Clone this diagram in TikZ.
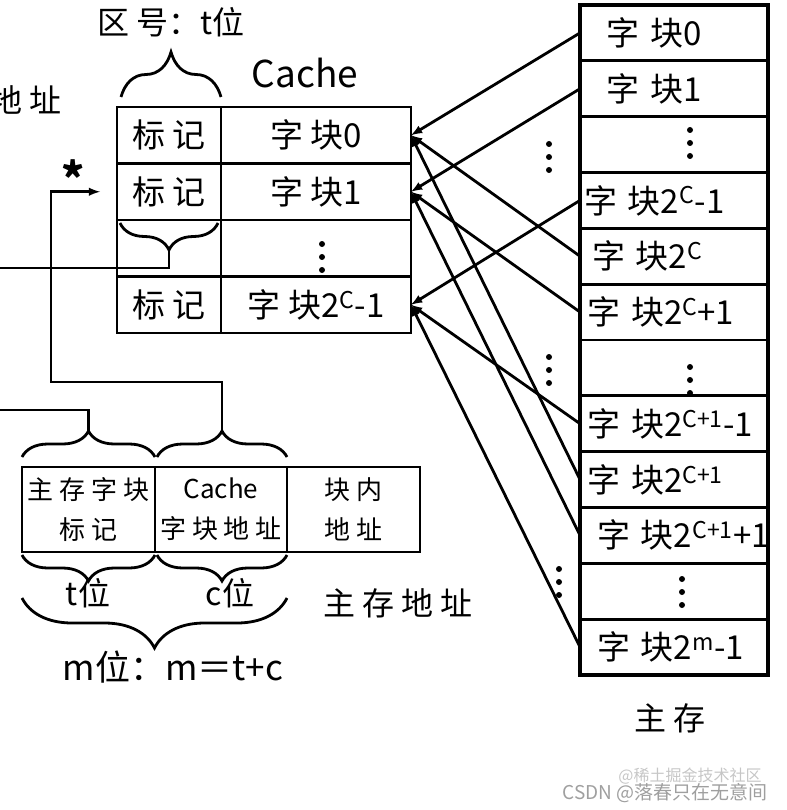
\documentclass[tikz,border=0pt]{standalone}
\usepackage{fontspec}
\setmainfont{Noto Sans CJK SC}
\usetikzlibrary{positioning,decorations.pathreplacing}

\begin{document}
\begin{tikzpicture}[x=1pt, y=-1pt, line width=2.8pt,
        cell/.style={draw, outer sep=0pt, inner sep=0pt, minimum height=56.5pt, font=\fontsize{33}{38}\selectfont},
        memcell/.style={draw, outer sep=0pt, inner sep=0pt, minimum height=55.83pt, text width=188pt, align=left, font=\fontsize{33}{38}\selectfont},
        field/.style={draw, outer sep=0pt, inner sep=0pt, minimum height=85pt, minimum width=133pt, align=center, font=\fontsize{26}{40}\selectfont},
        brc/.style={decorate, decoration={brace, amplitude=#1}},
        lbl/.style={inner sep=0pt, font=\fontsize{32}{38}\selectfont}]
    \useasboundingbox (0,0) rectangle (786,810);

    % cache: tag column and block column
    \foreach \tg/\dt [count=\i from 0] in {标 记/字 块0, 标 记/字 块1, {}/{}, 标 记/字 块2\textsuperscript{C}-1}{
        \node[cell, minimum width=104pt] (t\i) at (169,{135.25+56.5*\i}) {\tg};
        \node[cell, minimum width=190pt, right=0pt of t\i] (d\i) {\dt};
    }

    % main memory column, \dx = indent of the label
    \foreach \lb/\dx [count=\i from 0] in {字 块0/26, 字 块1/26, {}/0, 字 块2\textsuperscript{C}-1/4,
            字 块2\textsuperscript{C}/12, 字 块2\textsuperscript{C}+1/7, {}/0, 字 块2\textsuperscript{C+1}-1/7,
            字 块2\textsuperscript{C+1}/7, 字 块2\textsuperscript{C+1}+1/17, {}/0, 字 块2\textsuperscript{m}-1/17}
        \node[memcell] (m\i) at (674,{32.9+55.83*\i}) {\hspace*{\dx pt}\mbox{\lb}};
    \draw[line width=4.5pt] (m0.north west) rectangle (m11.south east);

    % vertical dots
    \foreach \x/\y in {322/257, 690/143, 549/157, 690/380, 549/370, 682/592, 559/582}
        \foreach \d in {-13,0,13}
            \fill (\x,\y+\d) circle (3pt);

    % mapping: main memory block -> cache block
    \foreach \s/\t in {0/0, 1/1, 3/3, 4/0, 5/1, 7/3, 8/0, 9/1, 11/3}
        \draw[-latex] (m\s.west) -- (d\t.east);

    % main memory address
    \node[field] (f1) at (88.5,509.5) {主 存 字 块\\标 记};
    \node[field, right=0pt of f1, minimum width=132pt] (f2) {Cache\\字 块 地 址};
    \node[field, right=0pt of f2] (f3) {块 内\\地 址};

    % braces
    \draw[brc=45pt] (121,97) -- (221,97);       % above tag column
    \draw[brc=27pt] (218,223) -- (120,223);     % tag compare
    \draw[brc=26pt] (22,457) -- (155,457);      % above t field
    \draw[brc=26pt] (157,457) -- (287,457);     % above c field
    \draw[brc=26pt] (155,555) -- (22,555);      % below t field
    \draw[brc=26pt] (287,555) -- (157,555);     % below c field
    \draw[brc=50pt] (287,598) -- (22,598);      % m bits

    \coordinate (gtip) at (169,250);
    \coordinate (ttip) at (88.5,431);
    \coordinate (ctip) at (222,431);
    \draw (gtip) -- ++(0,18) -- ++(-180,0);
    \draw (ttip) -- ++(0,-21) -- ++(-100,0);
    \draw[-latex, shorten >=17pt] (ctip) -- ++(0,-49) -- ++(-171,0) |- (t1.west);

    % labels
    \node[lbl] (zone) at (171,22) {区 号：t位};
    \node[lbl, font=\fontsize{37}{40}\selectfont] (ctitle) at (305,73) {Cache};
    \node[lbl, anchor=east] (addr) at (63,100) {地 址};
    \node[lbl, font=\bfseries\fontsize{44}{44}\selectfont] (star) at (73,178) {*};
    \node[lbl] (tbits) at (88,593) {t位};
    \node[lbl] (cbits) at (230,593) {c位};
    \node[lbl, font=\fontsize{35}{40}\selectfont] (mbits) at (173,667) {m位：m＝t+c};
    \node[lbl] (maddr) at (398,603) {主 存 地 址};
    \node[lbl] (mem) at (670,718) {主 存};

    % watermark
    \node[text=gray!45, font=\fontsize{16}{18}\selectfont] (wm1) at (690,776) {@稀土掘金技术社区};
    \node[text=gray!75, font=\fontsize{19}{22}\selectfont] (wm2) at (665,793) {CSDN @落春只在无意间};
\end{tikzpicture}
\end{document}
